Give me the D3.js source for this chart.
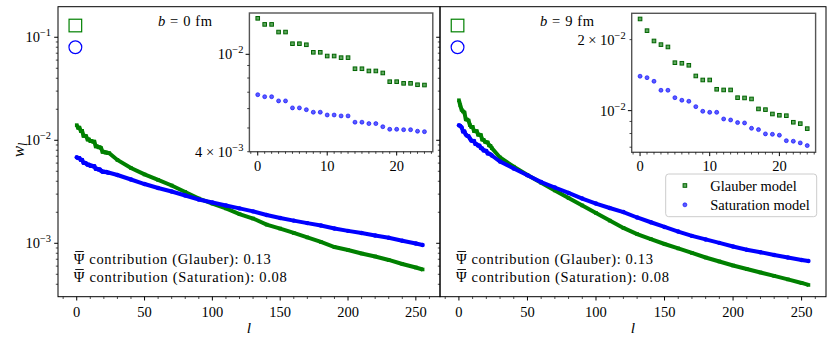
<!DOCTYPE html>
<html>
<head>
<meta charset="utf-8">
<script src="https://cdn.jsdelivr.net/npm/d3@7"></script>
<style>
  body { margin: 0; background: #fff; }
  svg text { font-family: "Liberation Serif", "DejaVu Serif", serif; fill: #000; }
</style>
</head>
<body>
<svg id="chart" width="830" height="342"></svg>
<script>
// l values: first 25 each, then read every 10 along the dense band
var lHead = d3.range(25);
var lTail = [30,40,50,60,70,80,90,100,110,120,130,140,150,160,170,180,190,200,210,220,230,240,250,255];

// b = 0 fm
var glauber0Head = [0.01403,0.01325,0.01325,0.01233,0.01233,0.01105,0.01105,0.01094,0.01019,0.01019,0.00984,0.00984,0.00969,0.00969,0.00873,0.00873,0.00855,0.00855,0.00839,0.00773,0.00773,0.00761,0.00761,0.00751,0.00749];
var sat0Head = [0.00684,0.00671,0.00671,0.00645,0.00645,0.00604,0.00604,0.00594,0.0058,0.0058,0.00565,0.00565,0.0056,0.0056,0.00528,0.00528,0.00521,0.00521,0.00506,0.00494,0.00494,0.00492,0.00492,0.00485,0.00483];
var glauber0Tail = [0.00644,0.00538,0.00466,0.00412,0.00364,0.00315,0.00272,0.00243,0.00218,0.00192,0.00174,0.00152,0.00139,0.00126,0.00114,0.00103,0.00092,0.00086,0.000796,0.000745,0.000689,0.00063,0.000582,0.000557];
var sat0Tail = [0.0046,0.00416,0.00376,0.00344,0.00318,0.00291,0.00266,0.00249,0.00233,0.00218,0.00204,0.00188,0.00176,0.00166,0.00157,0.00149,0.00139,0.00132,0.00126,0.00119,0.00113,0.00106,0.000995,0.000962];

// b = 9 fm
var glauber9Head = [0.02447,0.02183,0.01974,0.01905,0.01862,0.01597,0.01588,0.01557,0.01403,0.01349,0.01349,0.01232,0.01224,0.01224,0.01135,0.01132,0.01121,0.01017,0.0101,0.00968,0.00956,0.00952,0.00893,0.00881,0.00839];
var sat9Head = [0.01399,0.0138,0.01332,0.0122,0.0122,0.01135,0.01107,0.01096,0.0104,0.00994,0.00984,0.00984,0.00922,0.00913,0.0089,0.00887,0.00842,0.00831,0.00797,0.00794,0.00787,0.00746,0.00742,0.0073,0.00711];
var glauber9Tail = [0.00681,0.00554,0.0046,0.00387,0.00326,0.00275,0.00233,0.00197,0.00166,0.00141,0.00123,0.0011,0.000984,0.000891,0.000806,0.000728,0.000666,0.000609,0.000563,0.000521,0.000482,0.000446,0.000412,0.000394];
var sat9Tail = [0.00622,0.00532,0.00458,0.00393,0.00348,0.00308,0.00272,0.00243,0.0022,0.00201,0.00178,0.0016,0.00144,0.0013,0.00118,0.00109,0.00101,0.000931,0.000865,0.000818,0.00077,0.000728,0.000689,0.000673];

// Psi-bar contributions [Glauber, Saturation]
var psiContrib = [0.13, 0.08];
var psiLabels = ["Glauber", "Saturation"];
var bValues = [0, 9];
var seriesNames = ["Glauber model", "Saturation model"];

var GREEN = "#008000", BLUE = "#0000ff";
var svg = d3.select("#chart");

function sup(sel, x, y, pre, exp, size, anchor) {
    var t = sel.append("text").attr("x", x).attr("y", y)
        .attr("font-size", size).attr("text-anchor", anchor || "end");
    t.append("tspan").text(pre);
    t.append("tspan").attr("dy", -size * 0.42).attr("font-size", size * 0.72).text(exp);
    return t;
}

function logTicks(domain) {
    var major = [], minor = [];
    var lo = Math.floor(Math.log10(domain[0])), hi = Math.ceil(Math.log10(domain[1]));
    for (var e = lo; e <= hi; e++) {
        for (var k = 1; k <= 9; k++) {
            var v = k * Math.pow(10, e);
            if (v < domain[0] * 0.999 || v > domain[1] * 1.001) continue;
            if (k == 1) major.push(v); else minor.push(v);
        }
    }
    return {major: major, minor: minor};
}

function drawPanel(p) {
    var g = svg.append("g");
    var x = d3.scaleLinear().domain([-13.8, 267.8]).range([p.x0, p.x1]);
    var y = d3.scaleLog().domain([3.03e-4, 0.198]).range([296.7, 6.7]);
    var all = function (head, tail) {
        return lHead.map((l, i) => [l, head[i]]).concat(lTail.map((l, i) => [l, tail[i]]));
    };
    var gl = all(p.gHead, p.gTail), sa = all(p.sHead, p.sTail);
    var line = d3.line().x(d => x(d[0])).y(d => y(d[1]));

    g.append("path").attr("d", line(gl)).attr("fill", "none")
        .attr("stroke", GREEN).attr("stroke-width", 4);
    g.selectAll(".gm").data(gl).enter().append("rect")
        .attr("x", d => x(d[0]) - 1.8).attr("y", d => y(d[1]) - 1.8)
        .attr("width", 3.6).attr("height", 3.6).attr("fill", GREEN);
    g.append("path").attr("d", line(sa)).attr("fill", "none")
        .attr("stroke", BLUE).attr("stroke-width", 4);
    g.selectAll(".sm").data(sa).enter().append("circle")
        .attr("cx", d => x(d[0])).attr("cy", d => y(d[1])).attr("r", 2.2).attr("fill", BLUE);

    // big open markers for the Psi-bar contributions
    g.append("rect").attr("x", x(-1) - 6.3).attr("y", y(psiContrib[0]) - 6.3)
        .attr("width", 12.6).attr("height", 12.6)
        .attr("fill", "none").attr("stroke", GREEN).attr("stroke-width", 1.2);
    g.append("circle").attr("cx", x(-1)).attr("cy", y(psiContrib[1])).attr("r", 6.4)
        .attr("fill", "none").attr("stroke", BLUE).attr("stroke-width", 1.2);

    // frame
    g.append("rect").attr("x", p.x0).attr("y", 6.7).attr("width", p.x1 - p.x0).attr("height", 290)
        .attr("fill", "none").attr("stroke", "#000").attr("stroke-width", 1);

    // x ticks
    [0, 50, 100, 150, 200, 250].forEach(function (v) {
        g.append("line").attr("x1", x(v)).attr("x2", x(v)).attr("y1", 296.7).attr("y2", 300.5).attr("stroke", "#000");
        g.append("text").attr("x", x(v)).attr("y", 316.5).attr("font-size", 14.5)
            .attr("text-anchor", "middle").text(v);
    });
    d3.range(-10, 268, 10).forEach(function (v) {
        if (v % 50 == 0) return;
        g.append("line").attr("x1", x(v)).attr("x2", x(v)).attr("y1", 296.7).attr("y2", 299).attr("stroke", "#000").attr("stroke-width", 0.7);
    });
    g.append("text").attr("x", x(127)).attr("y", 333).attr("font-size", 15.5)
        .attr("font-style", "italic").attr("text-anchor", "middle").text("l");

    // y ticks
    var yt = logTicks(y.domain());
    yt.major.forEach(function (v) {
        g.append("line").attr("x1", p.x0 - 3.8).attr("x2", p.x0).attr("y1", y(v)).attr("y2", y(v)).attr("stroke", "#000");
        if (p.yLabels) sup(g, p.x0 - 7, y(v) + 5, "10", "\u2212" + Math.round(-Math.log10(v)), 14.5);
    });
    yt.minor.forEach(function (v) {
        g.append("line").attr("x1", p.x0 - 2.2).attr("x2", p.x0).attr("y1", y(v)).attr("y2", y(v)).attr("stroke", "#000").attr("stroke-width", 0.7);
    });

    // b label
    var bt = g.append("text").attr("x", p.bx).attr("y", 26).attr("font-size", 14.5)
        .attr("textLength", 54).attr("lengthAdjust", "spacing");
    bt.append("tspan").attr("font-style", "italic").text("b");
    bt.append("tspan").text(" = " + p.b + " fm");

    // psi-bar texts
    var tx = x(0) - 3;
    psiLabels.forEach(function (name, i) {
        var by = 264 + i * 18;
        g.append("text").attr("x", tx).attr("y", by).attr("font-size", 14.5)
            .attr("textLength", i == 0 ? 197 : 213).attr("lengthAdjust", "spacing")
            .text("\u03A8 contribution (" + name + "): " + psiContrib[i].toFixed(2));
        g.append("line").attr("x1", tx + 1.5).attr("x2", tx + 10).attr("y1", by - 12.5).attr("y2", by - 12.5)
            .attr("stroke", "#000").attr("stroke-width", 0.9);
    });

    // inset
    var ig = g.append("g");
    var ix = d3.scaleLinear().domain([-1.2, 25.2]).range([p.ix0, p.ix1]);
    var iy = d3.scaleLog().domain(p.iyDomain).range([p.iy1, p.iy0]);
    ig.append("rect").attr("x", p.ix0).attr("y", p.iy0).attr("width", p.ix1 - p.ix0).attr("height", p.iy1 - p.iy0)
        .attr("fill", "#fff").attr("stroke", "#555").attr("stroke-width", 1.4);
    ig.selectAll(".ig").data(lHead).enter().append("rect")
        .attr("x", l => ix(l) - 1.8).attr("y", (l, i) => iy(p.gHead[i]) - 1.8)
        .attr("width", 3.6).attr("height", 3.6)
        .attr("fill", "#5fa85f").attr("stroke", "#006400").attr("stroke-width", 1);
    ig.selectAll(".is").data(lHead).enter().append("circle")
        .attr("cx", l => ix(l)).attr("cy", (l, i) => iy(p.sHead[i])).attr("r", 2)
        .attr("fill", "#5a5aff").attr("stroke", BLUE).attr("stroke-width", 0.6);
    d3.range(-1, 26).forEach(function (v) {
        var big = v % 10 == 0;
        ig.append("line").attr("x1", ix(v)).attr("x2", ix(v)).attr("y1", p.iy1).attr("y2", p.iy1 + (big ? 3.8 : 2.2))
            .attr("stroke", "#000").attr("stroke-width", big ? 1 : 0.7);
        if (big) ig.append("text").attr("x", ix(v)).attr("y", p.iy1 + 19).attr("font-size", 14.5)
            .attr("text-anchor", "middle").text(v);
    });
    var it = logTicks(iy.domain());
    it.major.concat(it.minor).forEach(function (v) {
        var big = it.major.indexOf(v) >= 0;
        ig.append("line").attr("x1", p.ix0 - (big ? 3.8 : 2.2)).attr("x2", p.ix0).attr("y1", iy(v)).attr("y2", iy(v))
            .attr("stroke", "#000").attr("stroke-width", big ? 1 : 0.7);
    });
    p.iyLabels.forEach(function (lb) {
        sup(ig, p.ix0 - 6, iy(lb[0]) + 5, lb[1], lb[2], 14.5);
    });
    return {x: x, y: y};
}

drawPanel({x0: 58, x1: 440, b: bValues[0], bx: 158, yLabels: true,
    gHead: glauber0Head, sHead: sat0Head, gTail: glauber0Tail, sTail: sat0Tail,
    ix0: 249.4, ix1: 432.8, iy0: 13, iy1: 151.7, iyDomain: [4e-3, 0.01475],
    iyLabels: [[0.01, "10", "\u22122"], [0.004, "4 \u00D7 10", "\u22123"]]});
drawPanel({x0: 440, x1: 826, b: bValues[1], bx: 540, yLabels: false,
    gHead: glauber9Head, sHead: sat9Head, gTail: glauber9Tail, sTail: sat9Tail,
    ix0: 631.7, ix1: 815.6, iy0: 13.3, iy1: 152.3, iyDomain: [6.66e-3, 0.02586],
    iyLabels: [[0.01, "10", "\u22122"], [0.02, "2 \u00D7 10", "\u22122"]]});

// y axis label w_l
var yl = svg.append("text").attr("transform", "translate(24,150) rotate(-90)")
    .attr("font-size", 17).attr("text-anchor", "middle");
yl.append("tspan").attr("font-style", "italic").text("w");
yl.append("tspan").attr("font-style", "italic").attr("font-size", 12).attr("dy", 3).text("l");

// legend
var lg = svg.append("g").attr("transform", "translate(665.7,174)");
lg.append("rect").attr("width", 151).attr("height", 42.7).attr("rx", 3)
    .attr("fill", "#fff").attr("fill-opacity", 0.8).attr("stroke", "#ccc");
seriesNames.forEach(function (name, i) {
    var cy = 11.5 + i * 19.3;
    if (i == 0) lg.append("rect").attr("x", 17.4).attr("y", cy - 1.8).attr("width", 3.6).attr("height", 3.6)
        .attr("fill", "#5fa85f").attr("stroke", "#006400").attr("stroke-width", 1);
    else lg.append("circle").attr("cx", 19.2).attr("cy", cy).attr("r", 2)
        .attr("fill", "#5a5aff").attr("stroke", BLUE).attr("stroke-width", 0.6);
    lg.append("text").attr("x", 44.5).attr("y", cy + 5).attr("font-size", 14.5).text(name);
});
</script>
</body>
</html>
